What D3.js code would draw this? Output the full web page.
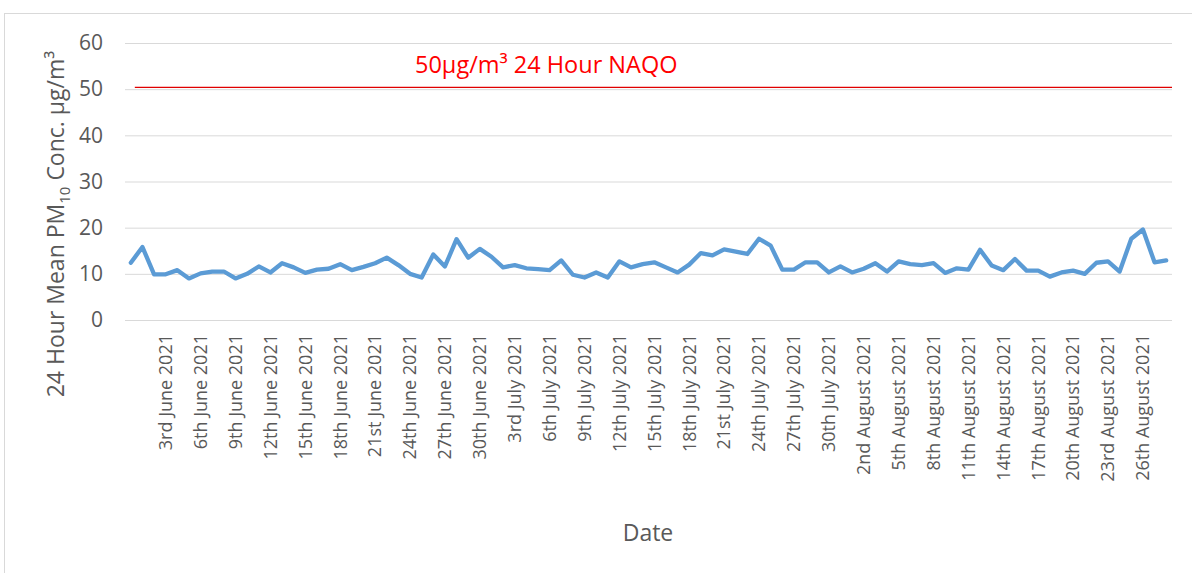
<!DOCTYPE html>
<html>
<head>
<meta charset="utf-8">
<script src="https://cdn.jsdelivr.net/npm/d3@7"></script>
<style>
  body { margin: 0; background: #fff; }
  text { font-family: "Open Sans", sans-serif; }
</style>
</head>
<body>
<div id="chart-area"></div>
<script>
// Daily 24 hour mean PM10 (µg/m³), 31 May 2021 onwards
var pm10 = [
  12.4, 15.8, 9.9, 9.9, 10.8, 9.0, 10.1, 10.5, 10.5, 9.0,
  10.0, 11.6, 10.3, 12.3, 11.4, 10.2, 10.9, 11.1, 12.1, 10.8,
  11.5, 12.3, 13.5, 11.9, 10.0, 9.2, 14.2, 11.6, 17.5, 13.5,
  15.4, 13.7, 11.4, 11.9, 11.2, 11.0, 10.8, 12.9, 9.8, 9.2,
  10.3, 9.2, 12.7, 11.4, 12.1, 12.5, 11.4, 10.3, 12.0, 14.5,
  14.0, 15.3, 14.8, 14.3, 17.6, 16.1, 10.9, 10.9, 12.5, 12.5,
  10.3, 11.6, 10.3, 11.1, 12.3, 10.5, 12.7, 12.1, 11.9, 12.3,
  10.2, 11.2, 10.9, 15.2, 11.8, 10.8, 13.2, 10.7, 10.7, 9.4,
  10.3, 10.7, 10.0, 12.4, 12.7, 10.5, 17.6, 19.6, 12.5, 12.9
];
var naqo = 50.4;
var naqoLabel = "50µg/m³ 24 Hour NAQO";
var yTicks = [0, 10, 20, 30, 40, 50, 60];
var startDay = new Date(2021, 4, 31);
var labelEvery = 3;

var margin = { left: 125, right: 20, top: 43, bottom: 253 };
var width = 1192 - margin.left - margin.right,
  height = 573 - margin.top - margin.bottom;

function ordinal(n) {
  if (n % 100 >= 11 && n % 100 <= 13) return n + "th";
  if (n % 10 == 1) return n + "st";
  if (n % 10 == 2) return n + "nd";
  if (n % 10 == 3) return n + "rd";
  return n + "th";
}
var monthName = d3.timeFormat("%B");
var days = d3.timeDay.range(startDay, d3.timeDay.offset(startDay, pm10.length));
var labels = days.map(function (d) {
  return ordinal(d.getDate()) + " " + monthName(d) + " " + d.getFullYear();
});

var svg = d3.select("#chart-area")
  .append("svg")
  .attr("width", 1192)
  .attr("height", 573);

// chart border
svg.append("rect")
  .attr("x", 4.5).attr("y", 13.5)
  .attr("width", 1200).attr("height", 600)
  .attr("fill", "none")
  .attr("stroke", "#d9d9d9");

var g = svg.append("g")
  .attr("transform", "translate(" + margin.left + "," + margin.top + ")");

// Scales
var x = d3.scaleBand().domain(labels).range([0, width]).padding(0);
var y = d3.scaleLinear().domain([0, 60]).range([height, 0]);
function cx(i) { return x(labels[i]) + x.bandwidth() / 2; }

// Gridlines + y labels
var yAxis = d3.axisLeft(y).tickValues(yTicks).tickSize(-width).tickPadding(22);
g.append("g").call(yAxis)
  .call(function (s) { s.select(".domain").remove(); })
  .call(function (s) {
    s.selectAll("line").attr("stroke", "#d9d9d9");
    s.selectAll("text").attr("fill", "#595959").style("font-size", "21px");
  });

// x labels
var xAxis = d3.axisBottom(x)
  .tickValues(labels.filter(function (d, i) { return i > 0 && i % labelEvery == 0; }))
  .tickSize(0);
g.append("g")
  .attr("transform", "translate(0," + height + ")")
  .call(xAxis)
  .call(function (s) { s.select(".domain").remove(); })
  .selectAll("text")
  .attr("transform", "rotate(-90)")
  .attr("x", -14).attr("y", 0).attr("dy", "0.35em")
  .style("text-anchor", "end")
  .style("font-size", "18px")
  .attr("fill", "#595959");

// NAQO line
g.append("line")
  .attr("x1", cx(0) + 4).attr("x2", width)
  .attr("y1", y(naqo)).attr("y2", y(naqo))
  .attr("stroke", "#e00000").attr("stroke-width", 1.3);
g.append("text")
  .attr("x", 290).attr("y", y(naqo) - 14)
  .attr("fill", "#ff0000")
  .style("font-size", "23.5px")
  .text(naqoLabel);

// PM10 line
var line = d3.line()
  .x(function (d, i) { return cx(i); })
  .y(function (d) { return y(d); });
g.append("path")
  .datum(pm10)
  .attr("d", line)
  .attr("fill", "none")
  .attr("stroke", "#5b9bd5")
  .attr("stroke-width", 4.3)
  .attr("stroke-linejoin", "round")
  .attr("stroke-linecap", "round");

// Axis titles
var yt = svg.append("text")
  .attr("transform", "translate(64,224) rotate(-90)")
  .attr("text-anchor", "middle")
  .attr("fill", "#595959")
  .style("font-size", "23px");
yt.append("tspan").text("24 Hour Mean PM");
yt.append("tspan").attr("dy", 6).style("font-size", "15px").text("10");
yt.append("tspan").attr("dy", -6).text(" Conc. µg/m³");

svg.append("text")
  .attr("x", 648).attr("y", 541)
  .attr("text-anchor", "middle")
  .attr("fill", "#595959")
  .style("font-size", "23px")
  .text("Date");
</script>
</body>
</html>
